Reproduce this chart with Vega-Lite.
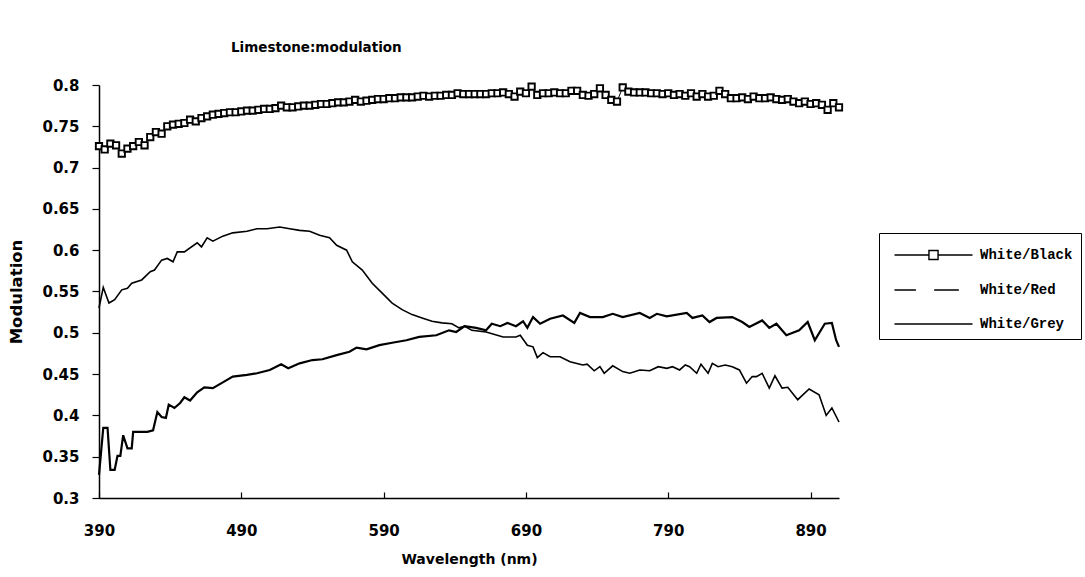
{
  "$schema": "https://vega.github.io/schema/vega-lite/v6.json",
  "width": 740,
  "height": 413,
  "autosize": {"type": "none"},
  "padding": {"left": 99, "top": 85, "right": 246, "bottom": 79},
  "background": "white",
  "title": {"text": "Limestone:modulation", "anchor": "start", "dx": 222, "offset": 24, "font": "DejaVu Sans", "fontSize": 13.5, "fontWeight": "bold", "color": "black"},
  "config": {"view": {"stroke": null}},
  "data": {"values": [
    {"series":"White/Black","wl":390,"m":0.726},{"series":"White/Black","wl":394,"m":0.722},{"series":"White/Black","wl":398,"m":0.729},{"series":"White/Black","wl":402,"m":0.727},{"series":"White/Black","wl":406,"m":0.717},{"series":"White/Black","wl":410,"m":0.723},{"series":"White/Black","wl":414,"m":0.726},{"series":"White/Black","wl":418,"m":0.731},{"series":"White/Black","wl":422,"m":0.727},{"series":"White/Black","wl":426,"m":0.737},{"series":"White/Black","wl":430,"m":0.743},{"series":"White/Black","wl":434,"m":0.741},{"series":"White/Black","wl":438,"m":0.750},{"series":"White/Black","wl":442,"m":0.752},{"series":"White/Black","wl":446,"m":0.753},{"series":"White/Black","wl":450,"m":0.754},{"series":"White/Black","wl":454,"m":0.758},{"series":"White/Black","wl":458,"m":0.756},{"series":"White/Black","wl":462,"m":0.760},{"series":"White/Black","wl":466,"m":0.762},{"series":"White/Black","wl":470,"m":0.764},{"series":"White/Black","wl":474,"m":0.765},{"series":"White/Black","wl":478,"m":0.766},{"series":"White/Black","wl":482,"m":0.767},{"series":"White/Black","wl":486,"m":0.767},{"series":"White/Black","wl":490,"m":0.768},{"series":"White/Black","wl":494,"m":0.769},{"series":"White/Black","wl":498,"m":0.769},{"series":"White/Black","wl":502,"m":0.770},{"series":"White/Black","wl":506,"m":0.771},{"series":"White/Black","wl":510,"m":0.771},{"series":"White/Black","wl":514,"m":0.772},{"series":"White/Black","wl":518,"m":0.775},{"series":"White/Black","wl":522,"m":0.773},{"series":"White/Black","wl":526,"m":0.773},{"series":"White/Black","wl":530,"m":0.774},{"series":"White/Black","wl":534,"m":0.775},{"series":"White/Black","wl":538,"m":0.775},{"series":"White/Black","wl":542,"m":0.776},{"series":"White/Black","wl":546,"m":0.777},{"series":"White/Black","wl":550,"m":0.777},{"series":"White/Black","wl":554,"m":0.778},{"series":"White/Black","wl":558,"m":0.779},{"series":"White/Black","wl":562,"m":0.779},{"series":"White/Black","wl":566,"m":0.780},{"series":"White/Black","wl":570,"m":0.782},{"series":"White/Black","wl":574,"m":0.780},{"series":"White/Black","wl":578,"m":0.781},{"series":"White/Black","wl":582,"m":0.782},{"series":"White/Black","wl":586,"m":0.783},{"series":"White/Black","wl":590,"m":0.783},{"series":"White/Black","wl":594,"m":0.784},{"series":"White/Black","wl":598,"m":0.784},{"series":"White/Black","wl":602,"m":0.785},{"series":"White/Black","wl":606,"m":0.785},{"series":"White/Black","wl":610,"m":0.785},{"series":"White/Black","wl":614,"m":0.786},{"series":"White/Black","wl":618,"m":0.787},{"series":"White/Black","wl":622,"m":0.786},{"series":"White/Black","wl":626,"m":0.787},{"series":"White/Black","wl":630,"m":0.787},{"series":"White/Black","wl":634,"m":0.788},{"series":"White/Black","wl":638,"m":0.788},{"series":"White/Black","wl":642,"m":0.790},{"series":"White/Black","wl":646,"m":0.789},{"series":"White/Black","wl":650,"m":0.789},{"series":"White/Black","wl":654,"m":0.789},{"series":"White/Black","wl":658,"m":0.789},{"series":"White/Black","wl":662,"m":0.789},{"series":"White/Black","wl":666,"m":0.790},{"series":"White/Black","wl":670,"m":0.790},{"series":"White/Black","wl":674,"m":0.791},{"series":"White/Black","wl":678,"m":0.789},{"series":"White/Black","wl":682,"m":0.786},{"series":"White/Black","wl":686,"m":0.792},{"series":"White/Black","wl":690,"m":0.790},{"series":"White/Black","wl":694,"m":0.798},{"series":"White/Black","wl":698,"m":0.788},{"series":"White/Black","wl":702,"m":0.790},{"series":"White/Black","wl":706,"m":0.790},{"series":"White/Black","wl":710,"m":0.791},{"series":"White/Black","wl":714,"m":0.790},{"series":"White/Black","wl":718,"m":0.790},{"series":"White/Black","wl":722,"m":0.793},{"series":"White/Black","wl":726,"m":0.793},{"series":"White/Black","wl":730,"m":0.788},{"series":"White/Black","wl":734,"m":0.787},{"series":"White/Black","wl":738,"m":0.789},{"series":"White/Black","wl":742,"m":0.796},{"series":"White/Black","wl":746,"m":0.788},{"series":"White/Black","wl":750,"m":0.782},{"series":"White/Black","wl":754,"m":0.780},{"series":"White/Black","wl":758,"m":0.797},{"series":"White/Black","wl":762,"m":0.792},{"series":"White/Black","wl":766,"m":0.791},{"series":"White/Black","wl":770,"m":0.791},{"series":"White/Black","wl":774,"m":0.791},{"series":"White/Black","wl":778,"m":0.790},{"series":"White/Black","wl":782,"m":0.790},{"series":"White/Black","wl":786,"m":0.789},{"series":"White/Black","wl":790,"m":0.790},{"series":"White/Black","wl":794,"m":0.788},{"series":"White/Black","wl":798,"m":0.789},{"series":"White/Black","wl":802,"m":0.787},{"series":"White/Black","wl":806,"m":0.790},{"series":"White/Black","wl":810,"m":0.786},{"series":"White/Black","wl":814,"m":0.789},{"series":"White/Black","wl":818,"m":0.786},{"series":"White/Black","wl":822,"m":0.787},{"series":"White/Black","wl":826,"m":0.793},{"series":"White/Black","wl":830,"m":0.789},{"series":"White/Black","wl":834,"m":0.784},{"series":"White/Black","wl":838,"m":0.784},{"series":"White/Black","wl":842,"m":0.785},{"series":"White/Black","wl":846,"m":0.783},{"series":"White/Black","wl":850,"m":0.786},{"series":"White/Black","wl":854,"m":0.784},{"series":"White/Black","wl":858,"m":0.784},{"series":"White/Black","wl":862,"m":0.785},{"series":"White/Black","wl":866,"m":0.783},{"series":"White/Black","wl":870,"m":0.782},{"series":"White/Black","wl":874,"m":0.783},{"series":"White/Black","wl":878,"m":0.780},{"series":"White/Black","wl":882,"m":0.778},{"series":"White/Black","wl":886,"m":0.780},{"series":"White/Black","wl":890,"m":0.777},{"series":"White/Black","wl":894,"m":0.778},{"series":"White/Black","wl":898,"m":0.776},{"series":"White/Black","wl":902,"m":0.770},{"series":"White/Black","wl":906,"m":0.778},{"series":"White/Black","wl":910,"m":0.773},
    {"series":"White/Red","wl":390,"m":0.328},{"series":"White/Red","wl":393,"m":0.385},{"series":"White/Red","wl":396,"m":0.385},{"series":"White/Red","wl":398,"m":0.334},{"series":"White/Red","wl":401,"m":0.334},{"series":"White/Red","wl":403,"m":0.351},{"series":"White/Red","wl":405,"m":0.351},{"series":"White/Red","wl":407,"m":0.376},{"series":"White/Red","wl":410,"m":0.360},{"series":"White/Red","wl":413,"m":0.360},{"series":"White/Red","wl":414,"m":0.380},{"series":"White/Red","wl":424,"m":0.380},{"series":"White/Red","wl":428,"m":0.382},{"series":"White/Red","wl":431,"m":0.404},{"series":"White/Red","wl":434,"m":0.398},{"series":"White/Red","wl":437,"m":0.397},{"series":"White/Red","wl":439,"m":0.413},{"series":"White/Red","wl":443,"m":0.409},{"series":"White/Red","wl":447,"m":0.415},{"series":"White/Red","wl":450,"m":0.422},{"series":"White/Red","wl":454,"m":0.418},{"series":"White/Red","wl":459,"m":0.428},{"series":"White/Red","wl":464,"m":0.434},{"series":"White/Red","wl":470,"m":0.433},{"series":"White/Red","wl":477,"m":0.440},{"series":"White/Red","wl":484,"m":0.447},{"series":"White/Red","wl":494,"m":0.449},{"series":"White/Red","wl":501,"m":0.451},{"series":"White/Red","wl":510,"m":0.455},{"series":"White/Red","wl":518,"m":0.462},{"series":"White/Red","wl":523,"m":0.457},{"series":"White/Red","wl":531,"m":0.463},{"series":"White/Red","wl":540,"m":0.467},{"series":"White/Red","wl":547,"m":0.468},{"series":"White/Red","wl":557,"m":0.473},{"series":"White/Red","wl":566,"m":0.477},{"series":"White/Red","wl":571,"m":0.482},{"series":"White/Red","wl":578,"m":0.480},{"series":"White/Red","wl":587,"m":0.485},{"series":"White/Red","wl":596,"m":0.488},{"series":"White/Red","wl":606,"m":0.491},{"series":"White/Red","wl":615,"m":0.495},{"series":"White/Red","wl":627,"m":0.497},{"series":"White/Red","wl":636,"m":0.503},{"series":"White/Red","wl":641,"m":0.501},{"series":"White/Red","wl":647,"m":0.508},{"series":"White/Red","wl":655,"m":0.506},{"series":"White/Red","wl":662,"m":0.503},{"series":"White/Red","wl":666,"m":0.511},{"series":"White/Red","wl":672,"m":0.508},{"series":"White/Red","wl":677,"m":0.512},{"series":"White/Red","wl":683,"m":0.508},{"series":"White/Red","wl":688,"m":0.514},{"series":"White/Red","wl":691,"m":0.506},{"series":"White/Red","wl":695,"m":0.519},{"series":"White/Red","wl":700,"m":0.511},{"series":"White/Red","wl":707,"m":0.517},{"series":"White/Red","wl":716,"m":0.521},{"series":"White/Red","wl":724,"m":0.512},{"series":"White/Red","wl":728,"m":0.524},{"series":"White/Red","wl":735,"m":0.519},{"series":"White/Red","wl":744,"m":0.519},{"series":"White/Red","wl":751,"m":0.523},{"series":"White/Red","wl":758,"m":0.519},{"series":"White/Red","wl":770,"m":0.524},{"series":"White/Red","wl":777,"m":0.518},{"series":"White/Red","wl":782,"m":0.523},{"series":"White/Red","wl":789,"m":0.520},{"series":"White/Red","wl":803,"m":0.524},{"series":"White/Red","wl":807,"m":0.518},{"series":"White/Red","wl":814,"m":0.521},{"series":"White/Red","wl":819,"m":0.513},{"series":"White/Red","wl":824,"m":0.518},{"series":"White/Red","wl":835,"m":0.519},{"series":"White/Red","wl":842,"m":0.513},{"series":"White/Red","wl":847,"m":0.507},{"series":"White/Red","wl":856,"m":0.515},{"series":"White/Red","wl":861,"m":0.506},{"series":"White/Red","wl":866,"m":0.511},{"series":"White/Red","wl":873,"m":0.497},{"series":"White/Red","wl":882,"m":0.503},{"series":"White/Red","wl":888,"m":0.513},{"series":"White/Red","wl":893,"m":0.491},{"series":"White/Red","wl":900,"m":0.511},{"series":"White/Red","wl":905,"m":0.512},{"series":"White/Red","wl":908,"m":0.491},{"series":"White/Red","wl":910,"m":0.483},
    {"series":"White/Grey","wl":390,"m":0.530},{"series":"White/Grey","wl":393,"m":0.555},{"series":"White/Grey","wl":397,"m":0.536},{"series":"White/Grey","wl":401,"m":0.540},{"series":"White/Grey","wl":406,"m":0.552},{"series":"White/Grey","wl":410,"m":0.554},{"series":"White/Grey","wl":413,"m":0.560},{"series":"White/Grey","wl":420,"m":0.564},{"series":"White/Grey","wl":426,"m":0.574},{"series":"White/Grey","wl":429,"m":0.576},{"series":"White/Grey","wl":434,"m":0.588},{"series":"White/Grey","wl":438,"m":0.590},{"series":"White/Grey","wl":442,"m":0.586},{"series":"White/Grey","wl":445,"m":0.598},{"series":"White/Grey","wl":450,"m":0.598},{"series":"White/Grey","wl":459,"m":0.609},{"series":"White/Grey","wl":462,"m":0.604},{"series":"White/Grey","wl":466,"m":0.615},{"series":"White/Grey","wl":470,"m":0.611},{"series":"White/Grey","wl":477,"m":0.617},{"series":"White/Grey","wl":484,"m":0.621},{"series":"White/Grey","wl":494,"m":0.623},{"series":"White/Grey","wl":501,"m":0.626},{"series":"White/Grey","wl":508,"m":0.626},{"series":"White/Grey","wl":517,"m":0.628},{"series":"White/Grey","wl":524,"m":0.626},{"series":"White/Grey","wl":531,"m":0.624},{"series":"White/Grey","wl":538,"m":0.623},{"series":"White/Grey","wl":545,"m":0.618},{"series":"White/Grey","wl":552,"m":0.615},{"series":"White/Grey","wl":557,"m":0.606},{"series":"White/Grey","wl":564,"m":0.600},{"series":"White/Grey","wl":568,"m":0.586},{"series":"White/Grey","wl":575,"m":0.576},{"series":"White/Grey","wl":582,"m":0.560},{"series":"White/Grey","wl":589,"m":0.548},{"series":"White/Grey","wl":596,"m":0.536},{"series":"White/Grey","wl":603,"m":0.528},{"series":"White/Grey","wl":610,"m":0.522},{"series":"White/Grey","wl":617,"m":0.518},{"series":"White/Grey","wl":624,"m":0.514},{"series":"White/Grey","wl":631,"m":0.512},{"series":"White/Grey","wl":638,"m":0.511},{"series":"White/Grey","wl":643,"m":0.506},{"series":"White/Grey","wl":647,"m":0.508},{"series":"White/Grey","wl":652,"m":0.503},{"series":"White/Grey","wl":662,"m":0.501},{"series":"White/Grey","wl":674,"m":0.495},{"series":"White/Grey","wl":683,"m":0.495},{"series":"White/Grey","wl":686,"m":0.497},{"series":"White/Grey","wl":691,"m":0.485},{"series":"White/Grey","wl":695,"m":0.483},{"series":"White/Grey","wl":698,"m":0.470},{"series":"White/Grey","wl":702,"m":0.476},{"series":"White/Grey","wl":707,"m":0.471},{"series":"White/Grey","wl":714,"m":0.471},{"series":"White/Grey","wl":721,"m":0.465},{"series":"White/Grey","wl":730,"m":0.461},{"series":"White/Grey","wl":733,"m":0.462},{"series":"White/Grey","wl":738,"m":0.454},{"series":"White/Grey","wl":742,"m":0.459},{"series":"White/Grey","wl":745,"m":0.451},{"series":"White/Grey","wl":751,"m":0.460},{"series":"White/Grey","wl":758,"m":0.453},{"series":"White/Grey","wl":763,"m":0.451},{"series":"White/Grey","wl":770,"m":0.455},{"series":"White/Grey","wl":777,"m":0.454},{"series":"White/Grey","wl":783,"m":0.459},{"series":"White/Grey","wl":789,"m":0.457},{"series":"White/Grey","wl":793,"m":0.459},{"series":"White/Grey","wl":798,"m":0.455},{"series":"White/Grey","wl":802,"m":0.461},{"series":"White/Grey","wl":805,"m":0.459},{"series":"White/Grey","wl":810,"m":0.451},{"series":"White/Grey","wl":813,"m":0.462},{"series":"White/Grey","wl":818,"m":0.451},{"series":"White/Grey","wl":821,"m":0.463},{"series":"White/Grey","wl":825,"m":0.459},{"series":"White/Grey","wl":830,"m":0.461},{"series":"White/Grey","wl":835,"m":0.459},{"series":"White/Grey","wl":840,"m":0.455},{"series":"White/Grey","wl":845,"m":0.439},{"series":"White/Grey","wl":849,"m":0.447},{"series":"White/Grey","wl":852,"m":0.447},{"series":"White/Grey","wl":856,"m":0.451},{"series":"White/Grey","wl":861,"m":0.433},{"series":"White/Grey","wl":865,"m":0.448},{"series":"White/Grey","wl":870,"m":0.433},{"series":"White/Grey","wl":874,"m":0.434},{"series":"White/Grey","wl":881,"m":0.419},{"series":"White/Grey","wl":889,"m":0.432},{"series":"White/Grey","wl":896,"m":0.425},{"series":"White/Grey","wl":901,"m":0.400},{"series":"White/Grey","wl":905,"m":0.409},{"series":"White/Grey","wl":910,"m":0.392}
  ]},
  "encoding": {
    "x": {"field": "wl", "type": "quantitative", "scale": {"domain": [390, 910], "nice": false, "zero": false},
      "axis": {"title": "Wavelength (nm)", "values": [390, 490, 590, 690, 790, 890], "grid": false, "labelFlush": false, "tickSize": -6, "tickColor": "black", "tickWidth": 1.2, "domainColor": "black", "domainWidth": 1.5, "labelPadding": 31, "labelFont": "DejaVu Sans", "labelFontSize": 15, "labelFontWeight": "bold", "labelColor": "black", "titleFont": "DejaVu Sans", "titleFontSize": 14, "titleFontWeight": "bold", "titleColor": "black", "titlePadding": 14}},
    "y": {"field": "m", "type": "quantitative", "scale": {"domain": [0.3, 0.8], "nice": false, "zero": false},
      "axis": {"title": "Modulation", "values": [0.3, 0.35, 0.4, 0.45, 0.5, 0.55, 0.6, 0.65, 0.7, 0.75, 0.8], "format": "~g", "grid": false, "labelFlush": false, "tickSize": 7, "tickColor": "black", "tickWidth": 1.2, "domainColor": "black", "domainWidth": 1.5, "labelPadding": 13, "labelFont": "DejaVu Sans", "labelFontSize": 15, "labelFontWeight": "bold", "labelColor": "black", "titleFont": "DejaVu Sans", "titleFontSize": 16.5, "titleFontWeight": "bold", "titleColor": "black", "titlePadding": 17}}
  },
  "layer": [
    {"transform": [{"filter": "datum.series === 'White/Grey'"}], "mark": {"type": "line", "color": "black", "strokeWidth": 1.6}},
    {"transform": [{"filter": "datum.series === 'White/Red'"}], "mark": {"type": "line", "color": "black", "strokeWidth": 2.2}},
    {"transform": [{"filter": "datum.series === 'White/Black'"}], "mark": {"type": "line", "color": "black", "strokeWidth": 1}},
    {"transform": [{"filter": "datum.series === 'White/Black'"}], "mark": {"type": "point", "shape": "square", "size": 40, "filled": true, "fill": "white", "stroke": "black", "strokeWidth": 1.9, "opacity": 1}},
    {"mark": {"type": "point", "opacity": 0, "size": 676},
      "encoding": {"shape": {"field": "series", "type": "nominal",
        "scale": {"domain": ["White/Black", "White/Red", "White/Grey"], "range": ["M-0.5,0H2.15M2.85,0H5.5M2.15,-0.35H2.85V0.35H2.15Z", "M-0.5,0H1.15M2.55,0H4.45", "M-0.5,0H5.5"]},
        "legend": {"title": null, "orient": "none", "legendX": 780, "legendY": 148, "direction": "vertical", "padding": 8, "strokeColor": "black", "fillColor": "white", "symbolSize": 676, "symbolStrokeColor": "black", "symbolStrokeWidth": 1.4, "symbolFillColor": "white", "symbolOpacity": 1, "labelFont": "Liberation Mono", "labelFontSize": 14, "labelFontWeight": "bold", "labelColor": "black", "labelOffset": 65, "rowPadding": 13, "labelLimit": 300}}}}
  ]
}
